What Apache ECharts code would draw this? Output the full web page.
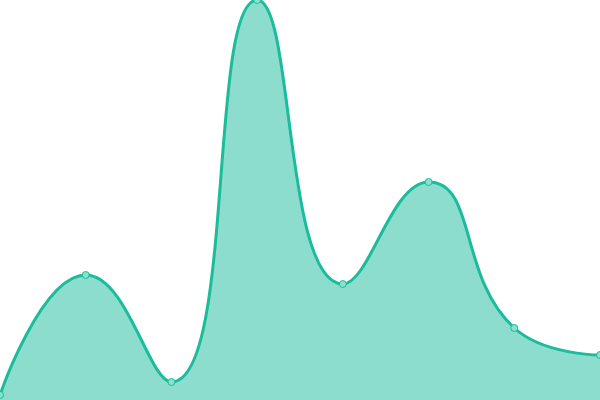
<!DOCTYPE html>
<html>
<head>
<meta charset="utf-8">
<script src="https://cdn.jsdelivr.net/npm/echarts@6/dist/echarts.min.js"></script>
<style>
  html, body { margin: 0; padding: 0; background: #fff; }
  #main { width: 600px; height: 400px; }
</style>
</head>
<body>
<div id="main"></div>
<script>
// values (y axis 0..400)
var categories = ['1', '2', '3', '4', '5', '6', '7', '8'];
var values = [5, 125, 18, 400, 116, 218, 72, 45];

var chart = echarts.init(document.getElementById('main'));

var option = {
  animation: false,
  grid: { left: 0, right: 0, top: 0, bottom: 0 },
  xAxis: {
    type: 'category',
    boundaryGap: false,
    data: categories,
    show: false
  },
  yAxis: {
    type: 'value',
    min: 0,
    max: 400,
    show: false
  },
  series: [{
    type: 'line',
    smooth: true,
    data: values,
    symbol: 'circle',
    symbolSize: 7,
    clip: false,
    lineStyle: { color: '#1abc9c', width: 3 },
    itemStyle: { color: '#8ce0cd', borderColor: '#1abc9c', borderWidth: 1 },
    areaStyle: { color: '#1abc9c', opacity: 0.5 }
  }]
};
chart.setOption(option);
</script>
</body>
</html>
